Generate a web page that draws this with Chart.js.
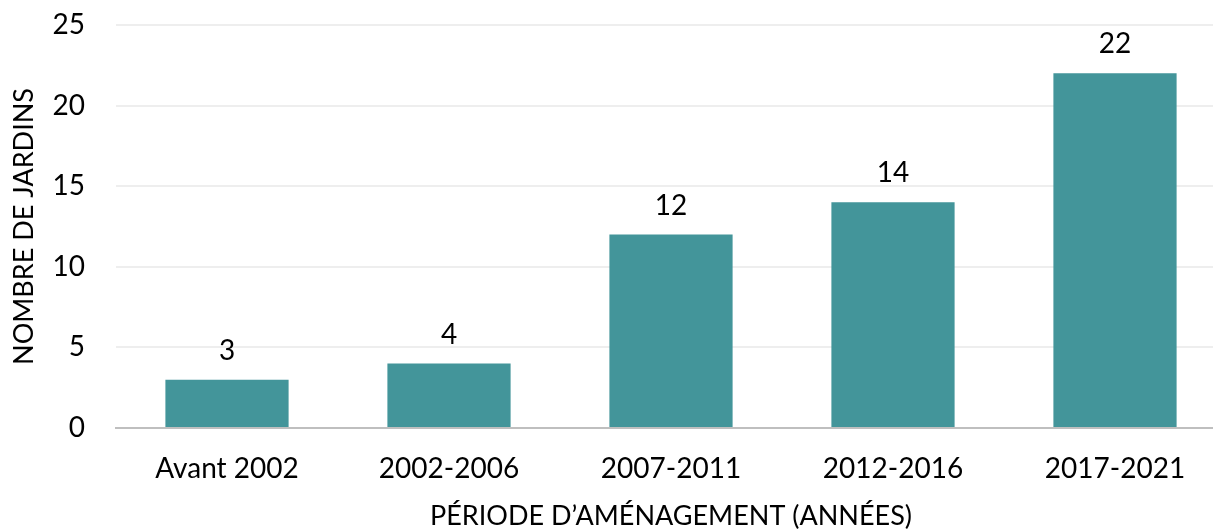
<!DOCTYPE html>
<html>
<head>
    <title>Jardins par période d'aménagement</title>
    <script src="https://cdn.jsdelivr.net/npm/chart.js@4/dist/chart.umd.min.js"></script>
    <style>
        html, body {
            margin: 0;
            padding: 0;
            background: white;
            overflow: hidden;
        }
        .frame {
            width: 1213px;
            height: 529px;
            overflow: hidden;
            position: relative;
        }
        .wrap {
            width: 1226px;
            height: 545px;
            position: absolute;
            left: 0;
            top: 0;
        }
    </style>
</head>
<body>
    <div class="frame">
        <div class="wrap">
            <canvas id="chart"></canvas>
        </div>
    </div>

    <script>
        // Data
        const periods = ['Avant 2002', '2002-2006', '2007-2011', '2012-2016', '2017-2021'];
        const gardens = [3, 4, 12, 14, 22];
        const yTicks = [0, 5, 10, 15, 20, 25];

        const FONT = 'Lato, "Open Sans", sans-serif';

        // Value labels above each bar
        const barLabels = {
            id: 'barLabels',
            afterDatasetsDraw(chart) {
                const ctx = chart.ctx;
                const meta = chart.getDatasetMeta(0);
                ctx.save();
                ctx.font = '28px ' + FONT;
                ctx.fillStyle = '#000';
                ctx.textAlign = 'center';
                ctx.textBaseline = 'alphabetic';
                meta.data.forEach((bar, i) => {
                    ctx.fillText(String(gardens[i]), bar.x, bar.y - 20);
                });
                ctx.restore();
            }
        };

        new Chart(document.getElementById('chart'), {
            type: 'bar',
            data: {
                labels: periods,
                datasets: [{
                    data: gardens,
                    backgroundColor: '#43959A',
                    borderWidth: 0,
                    barPercentage: 0.555,
                    categoryPercentage: 1
                }]
            },
            options: {
                responsive: true,
                maintainAspectRatio: false,
                animation: false,
                layout: { padding: { top: 25, left: 0, right: 0, bottom: 0 } },
                plugins: {
                    legend: { display: false },
                    tooltip: { enabled: false }
                },
                scales: {
                    x: {
                        grid: { display: false, drawTicks: false },
                        border: { color: '#BFBFBF', width: 2 },
                        ticks: {
                            color: '#000',
                            padding: 24,
                            font: { family: FONT, size: 28 }
                        },
                        title: {
                            display: true,
                            text: 'PÉRIODE D’AMÉNAGEMENT (ANNÉES)',
                            color: '#000',
                            font: { family: FONT, size: 27 },
                            padding: { top: 2, bottom: 13 }
                        },
                        afterFit: (s) => { s.height = 545 - 428; }
                    },
                    y: {
                        min: 0,
                        max: 25,
                        afterBuildTicks: (s) => { s.ticks = yTicks.map(v => ({ value: v })); },
                        grid: { color: '#EEEEEE', lineWidth: 2, drawTicks: false },
                        border: { display: false },
                        ticks: {
                            color: '#000',
                            padding: 31,
                            font: { family: FONT, size: 28 }
                        },
                        title: {
                            display: true,
                            text: 'NOMBRE DE JARDINS',
                            color: '#000',
                            font: { family: FONT, size: 27 },
                            padding: { top: 8, bottom: 0 }
                        },
                        afterFit: (s) => {
                            s.width = 116;
                            s.paddingTop = 0;
                            s.paddingBottom = 0;
                        }
                    }
                }
            },
            plugins: [barLabels]
        });
    </script>
</body>
</html>
